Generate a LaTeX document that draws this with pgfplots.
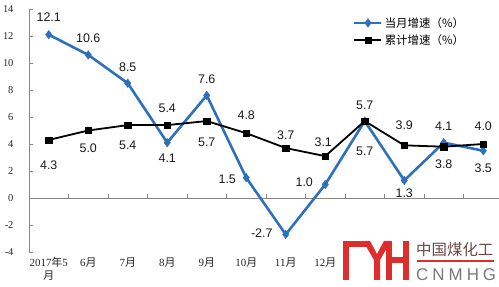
\documentclass[border=0pt]{standalone}
\usepackage{pgfplots}
\pgfplotsset{compat=1.18}
\usepackage{pgfplotstable}
\usepackage{fontspec}
\setmainfont{Liberation Serif}
\newfontfamily\arial{Liberation Sans}
\newfontfamily\cjk{Noto Sans CJK SC}
\definecolor{serblue}{RGB}{47,112,187}
\definecolor{axgray}{RGB}{134,134,134}
\definecolor{logored}{RGB}{222,45,45}
\definecolor{logotext}{RGB}{110,70,70}
\definecolor{logogray}{RGB}{120,120,120}

\pgfplotstableread{
x y lab dx dy
0 12.1 12.1 0 17
1 10.6 10.6 0 17
2 8.5 8.5 0 16
3 4.1 4.1 0 -16
4 7.6 7.6 0 16
5 1.5 1.5 -19 -2
6 -2.7 -2.7 -24 1
7 1.0 1.0 -21 2
8 5.7 5.7 0 -30
9 1.3 1.3 0 -13
10 4.1 4.1 0 16
11 3.5 3.5 0 -17
}\bluetab

\pgfplotstableread{
x y lab dx dy
0 4.3 4.3 0 -25
1 5.0 5.0 0 -18
2 5.4 5.4 0 -20
3 5.4 5.4 0 17
4 5.7 5.7 0 -21
5 4.8 4.8 0 18
6 3.7 3.7 0 13
7 3.1 3.1 -2 14
8 5.7 5.7 0 16
9 3.9 3.9 0 20
10 3.8 3.8 0 -18
11 4.0 4.0 0 18
}\blacktab

\begin{document}
\begin{tikzpicture}
\path[use as bounding box, clip] (0,0) rectangle (499bp,287bp);
\begin{axis}[
  at={(29bp,35bp)}, anchor=south west,
  scale only axis, width=474bp, height=243bp,
  xmin=-0.5, xmax=11.5, ymin=-4, ymax=14,
  clip=false,
  axis y line*=left, axis x line*=bottom,
  x axis line style={draw=none},
  y axis line style={axgray, line width=0.8bp},
  ytick={-4,-2,0,2,4,6,8,10,12,14},
  tick align=inside,
  ytick style={axgray, line width=0.8bp},
  major tick length=4bp,
  /pgf/number format/assume math mode=true,
  yticklabel style={font=\fontsize{10.5}{10.5}\selectfont, xshift=-12bp, text=black!85},
  xtick={0,1,2,3,4,5,6,7,8,9,10,11},
  xticklabels={{2017{\cjk 年}5\\{\cjk 月}},{6{\cjk 月}},{7{\cjk 月}},{8{\cjk 月}},{9{\cjk 月}},{10{\cjk 月}},{11{\cjk 月}},{12{\cjk 月}},{},{},{},{}},
  xtick style={draw=none},
  xticklabel style={align=center, font=\fontsize{11}{13}\selectfont, yshift=-2bp, text=black!85},
  legend style={at={(0.6835,0.975)}, anchor=north west, draw=none, fill=none,
    font=\cjk\fontsize{11.5}{11.5}\selectfont, row sep=2bp, inner sep=0pt,
    /tikz/every even column/.append style={column sep=4bp}},
  legend cell align=left,
  legend image code/.code={\draw[mark repeat=2,mark phase=2,#1] plot coordinates {(0bp,0bp) (13.5bp,0bp) (27bp,0bp)};},
  lbl/.style={nodes near coords, point meta=explicit symbolic,
    visualization depends on={\thisrow{dx}\as\dx},
    visualization depends on={\thisrow{dy}\as\dy},
    every node near coord/.append style={anchor=center, xshift=\dx bp, yshift=\dy bp,
      text=black!90, font=\arial\fontsize{12.5}{12.5}\selectfont, inner sep=0pt}},
]
\draw[axgray, line width=0.8bp] (axis cs:-0.5,0) -- (axis cs:11.5,0);
\pgfplotsinvokeforeach{0.5,1.5,2.5,3.5,4.5,5.5,6.5,7.5,8.5,9.5,10.5,11.5}{
  \draw[axgray, line width=0.8bp] (axis cs:#1,0) -- ([yshift=4bp]axis cs:#1,0);
}
\addplot[serblue, line width=2.6bp, mark=diamond*, mark size=4.2bp,
  mark options={fill=serblue, draw=serblue, line width=0.5bp}, lbl]
  table[x=x, y=y, meta=lab]{\bluetab};
\addlegendentry{当月增速（\%）}
\addplot[black, line width=1.8bp, mark=square*, mark size=3.2bp,
  mark options={fill=black, draw=black, line width=0.4bp}, lbl]
  table[x=x, y=y, meta=lab]{\blacktab};
\addlegendentry{累计增速（\%）}
\end{axis}
\begin{scope}[x=1bp, y=-1bp, shift={(0bp,287bp)}]
  \fill[logored] (343,241) rectangle (349,280);
  \fill[logored] (343,241) rectangle (368,247);
  \fill[logored] (363,241) -- (370,241) -- (377,254) -- (384,241) -- (391,241) -- (380,260) -- (380,280) -- (374,280) -- (374,260) -- cycle;
  \fill[logored] (386,241) rectangle (392,280);
  \fill[logored] (403,241) rectangle (409,280);
  \fill[logored] (386,257) rectangle (409,263);
  \node[anchor=west, text=logotext, font=\cjk\fontsize{15.5}{15.5}\selectfont, inner sep=0pt] at (416,250) {中国煤化工};
  \draw[logored, line width=1.2bp] (417,261) -- (494,261);
  \node[anchor=west, text=logogray, font=\arial\fontsize{17}{17}\selectfont, inner sep=0pt] at (416,274.5) {C\hspace{4bp}N\hspace{4bp}M\hspace{4bp}H\hspace{4bp}G};
\end{scope}
\end{tikzpicture}
\end{document}
